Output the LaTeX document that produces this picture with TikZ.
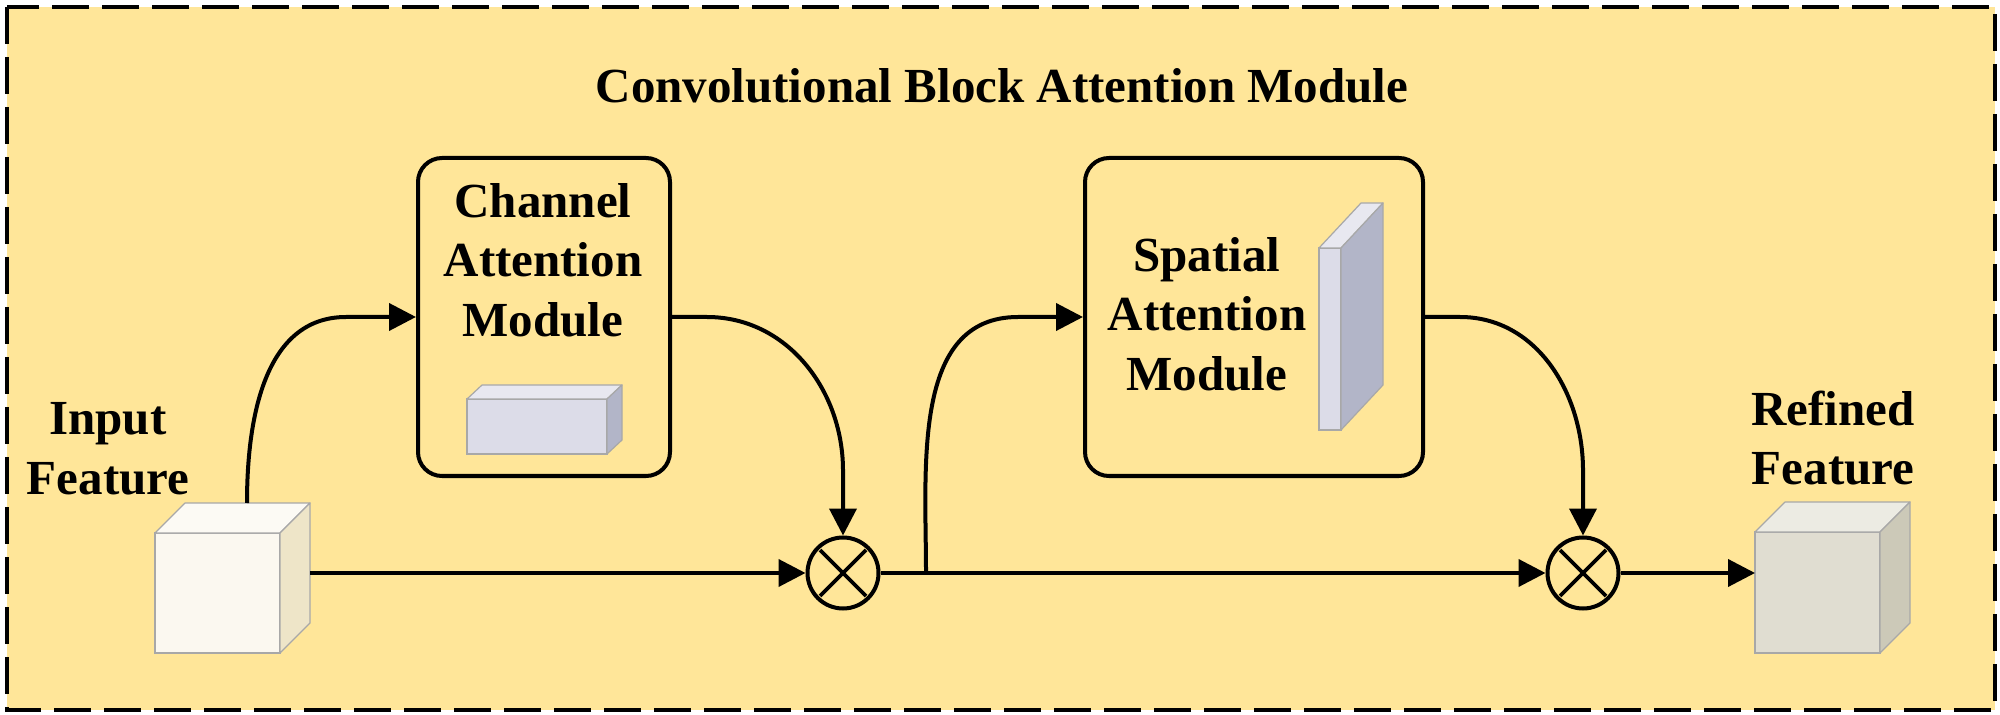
\documentclass[tikz,border=0pt]{standalone}
\usepackage{fontspec}
\setmainfont{Liberation Serif}
\usepackage{tikz}
\usetikzlibrary{arrows.meta,calc}
\definecolor{bgyellow}{HTML}{FFE699}
\definecolor{facegray}{HTML}{A8A8A8}
\definecolor{inpfront}{HTML}{FBF8F0}
\definecolor{inptop}{HTML}{FCFAF4}
\definecolor{inpside}{HTML}{EEE5C8}
\definecolor{outfront}{HTML}{E0DDD1}
\definecolor{outtop}{HTML}{ECEBE3}
\definecolor{outside}{HTML}{CCC9B8}
\definecolor{attfront}{HTML}{DCDCE8}
\definecolor{atttop}{HTML}{E8E8F0}
\definecolor{attside}{HTML}{B2B5C8}
\newcommand{\cubefaces}[5]{%
  \filldraw[faceline,fill=#4] (#1.north west) -- ([shift={(#2,#3)}]#1.north west) -- ([shift={(#2,#3)}]#1.north east) -- (#1.north east) -- cycle;
  \filldraw[faceline,fill=#5] (#1.north east) -- ([shift={(#2,#3)}]#1.north east) -- ([shift={(#2,#3)}]#1.south east) -- (#1.south east) -- cycle;}

\begin{document}
\begin{tikzpicture}[x=0.5pt,y=0.5pt,
    lbl/.style={font=\bfseries\fontsize{24.5}{29.75}\selectfont,align=center,inner sep=0pt},
    module/.style={draw,line width=2pt,rounded corners=12pt,minimum height=159pt},
    face/.style={draw=facegray,line width=0.6pt,outer sep=0pt,inner sep=0pt},
    faceline/.style={draw=facegray,line width=0.6pt,line join=round},
    mul/.style={draw,circle,line width=2pt,minimum size=35.5pt,inner sep=0pt},
    flow/.style={line width=2pt,-{Triangle[length=13.5pt,width=13.5pt]}},
    cross/.style={line width=1.8pt}]
    \useasboundingbox (0,0) rectangle (2000,-715);
    \draw[line width=2pt,dash pattern=on 18.5pt off 6.5pt,fill=bgyellow] (7,-7) rectangle (1995,-710);
    \node[lbl,anchor=base] (title) at (1002,-103) {Convolutional Block Attention Module};
    \node[module,minimum width=126pt] (cam) at (544,-317) {};
    \node[module,minimum width=169pt] (sam) at (1254,-317) {};
    \node[lbl] (camtxt) at (543,-260) {Channel\\Attention\\Module};
    \node[lbl] (samtxt) at (1207,-314) {Spatial\\Attention\\Module};
    \node[lbl] (inptxt) at (108,-449) {Input\\Feature};
    \node[lbl] (outtxt) at (1833,-438) {Refined\\Feature};
    \node[face,fill=inpfront,minimum width=62.5pt,minimum height=60pt] (inp) at (217.5,-593) {};
    \cubefaces{inp}{30}{30}{inptop}{inpside}
    \node[face,fill=outfront,minimum width=62.5pt,minimum height=60.5pt] (outc) at (1817.5,-592.5) {};
    \cubefaces{outc}{30}{30}{outtop}{outside}
    \node[face,fill=attfront,minimum width=70pt,minimum height=27.5pt] (chmap) at (537,-426.5) {};
    \cubefaces{chmap}{15}{14}{atttop}{attside}
    \node[face,fill=attfront,minimum width=11pt,minimum height=91pt] (spmap) at (1330,-339) {};
    \cubefaces{spmap}{42}{45}{atttop}{attside}
    \node[mul] (m1) at (843,-573) {};
    \node[mul] (m2) at (1583,-573) {};
    \foreach \m in {m1,m2} {\draw[cross] ($(\m)+(-23,-23)$) -- ($(\m)+(23,23)$); \draw[cross] ($(\m)+(-23,23)$) -- ($(\m)+(23,-23)$);}
    \coordinate (inptop) at ($(inp.north)+(29.5,30)$);
    \coordinate (inpside) at ($(inp.east)+(30,20)$);
    \coordinate (br) at (926,-573);
    \draw[flow] (inptop) to[out=90,in=180] ($(cam.west)+(-70,0)$) -- (cam.west);
    \draw[flow] (cam.east) -- ++(35,0) to[out=0,in=90] ($(m1.north)+(0,65)$) -- (m1.north);
    \draw[flow] (inpside) -- (m1);
    \draw[flow] (m1) -- (m2);
    \draw[flow] (br) to[out=90,in=180] ($(sam.west)+(-65,0)$) -- (sam.west);
    \draw[flow] (sam.east) -- ++(35,0) to[out=0,in=90] ($(m2.north)+(0,65)$) -- (m2.north);
    \draw[flow] (m2) -- (outc.west |- m2);
\end{tikzpicture}
\end{document}
